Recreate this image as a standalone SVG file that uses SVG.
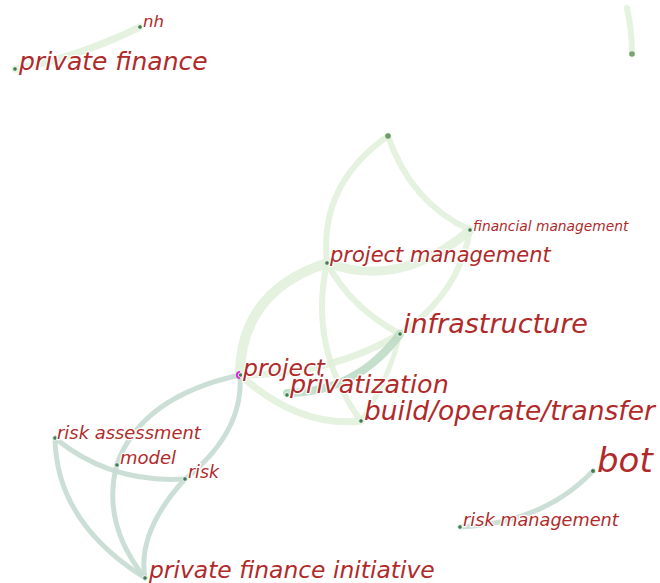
<svg xmlns="http://www.w3.org/2000/svg" width="660" height="583" viewBox="0 0 660 583">
  <style>
    .e { fill: none; stroke-linecap: round; }
    .g { stroke: #e0f0d9; stroke-opacity: 0.85; }
    .t { stroke: #c6dcd3; stroke-opacity: 0.9; }
    .d { fill: #3f7f4f; stroke: #ffffff; stroke-width: 0.8; }
    .lbl { font-family: "DejaVu Sans", "Liberation Sans", sans-serif; font-style: italic; fill: #b02a2a; stroke: #ffffff; stroke-width: 2.5; stroke-linejoin: round; paint-order: stroke; }
  </style>
  <rect width="660" height="583" fill="#ffffff"/>

  <g id="connectors">
    <!-- upper-left pair -->
    <path class="e g" stroke-width="7" d="M 140 27 Q 76.5 58 15 69"/>
    <!-- stub leaving the top edge -->
    <path class="e g" stroke-width="6" d="M 627 8 Q 632 30 632 54"/>
    <!-- central green cluster -->
    <path class="e g" stroke-width="6" d="M 388 136 Q 411 203 470 230"/>
    <path class="e g" stroke-width="6" d="M 388 136 Q 318.5 184.5 327 263"/>
    <path class="e g" stroke-width="9" d="M 327 263 Q 401.5 289.5 470 230"/>
    <path class="e g" stroke-width="6" d="M 470 230 Q 459 294 400 334"/>
    <path class="e g" stroke-width="6" d="M 327 263 Q 350.5 307.5 400 334"/>
    <path class="e g" stroke-width="6" d="M 327 263 Q 308 348 361 421"/>
    <path class="e g" stroke-width="10" d="M 240 375 Q 240.5 291 327 263"/>
    <path class="e g" stroke-width="7" d="M 240 375 Q 330 375.5 400 334"/>
    <path class="e g" stroke-width="7" d="M 240 375 Q 299.5 428 361 421"/>
    <path class="e g" stroke-width="5" d="M 400 334 Q 388 382 361 421"/>
    <path class="e" stroke="#bad9c2" stroke-opacity="0.85" stroke-width="8" d="M 287 393 Q 356.5 392.5 400 334"/>
    <!-- lower-left teal cluster -->
    <path class="e t" stroke-width="5" d="M 240 375 Q 141.5 396.5 117 464"/>
    <path class="e t" stroke-width="5" d="M 240 376 Q 243.5 432.5 185 479"/>
    <path class="e t" stroke-width="5" d="M 55 438 Q 110 483.5 185 479"/>
    <path class="e t" stroke-width="5" d="M 55 438 Q 56 522 145 578"/>
    <path class="e t" stroke-width="5" d="M 117 464 Q 101 523 145 578"/>
    <path class="e t" stroke-width="5" d="M 185 479 Q 137 531.5 145 578"/>
    <!-- lower-right pair -->
    <path class="e t" stroke-width="5" d="M 593 471 Q 543.5 523 460 527"/>
  </g>

  <g id="n-nh"><circle class="d" cx="140" cy="27" r="2.3"/><text class="lbl" x="143" y="27" font-size="16.6">nh</text></g>
  <g id="n-private-finance"><circle class="d" cx="15" cy="69" r="2.3"/><text class="lbl" x="19" y="70" font-size="25">private finance</text></g>
  <g id="n-corner"><circle cx="632" cy="54" r="2.8" fill="#7aa272"/></g>
  <g id="n-hub"><circle cx="388" cy="136" r="2.8" fill="#6f9c6c"/></g>
  <g id="n-financial-management"><circle class="d" cx="470" cy="230" r="2.3"/><text class="lbl" x="473" y="231" font-size="13.8">financial management</text></g>
  <g id="n-project-management"><circle class="d" cx="327" cy="263" r="2.3"/><text class="lbl" x="330" y="262" font-size="21">project management</text></g>
  <g id="n-infrastructure"><circle class="d" cx="400" cy="334" r="2.3"/><text class="lbl" x="403" y="333" font-size="27">infrastructure</text></g>
  <g id="n-project">
    <path d="M 240 371 A 4 4 0 0 0 240 379 Z" fill="#e020e0"/>
    <circle class="d" cx="240.5" cy="375" r="2.2"/>
    <text class="lbl" x="243" y="376" font-size="23.5">project</text>
  </g>
  <g id="n-privatization"><circle class="d" cx="287" cy="395" r="2.3"/><text class="lbl" x="290" y="393" font-size="25.4">privatization</text></g>
  <g id="n-build-operate-transfer"><circle class="d" cx="361" cy="421" r="2.3"/><text class="lbl" x="364" y="420" font-size="26.5">build/operate/transfer</text></g>
  <g id="n-risk-assessment"><circle class="d" cx="55" cy="438" r="2.3"/><text class="lbl" x="57" y="439" font-size="17.9">risk assessment</text></g>
  <g id="n-model"><circle class="d" cx="117" cy="465" r="2.3"/><text class="lbl" x="120" y="464" font-size="18">model</text></g>
  <g id="n-risk"><circle class="d" cx="185" cy="479" r="2.3"/><text class="lbl" x="188" y="478" font-size="17.3">risk</text></g>
  <g id="n-private-finance-initiative"><circle class="d" cx="145" cy="578" r="2.3"/><text class="lbl" x="149" y="578" font-size="23.4">private finance initiative</text></g>
  <g id="n-bot"><circle class="d" cx="593" cy="471" r="2.5"/><text class="lbl" x="597" y="472" font-size="34">bot</text></g>
  <g id="n-risk-management"><circle class="d" cx="460" cy="527" r="2.3"/><text class="lbl" x="463" y="526" font-size="17.7">risk management</text></g>
</svg>
